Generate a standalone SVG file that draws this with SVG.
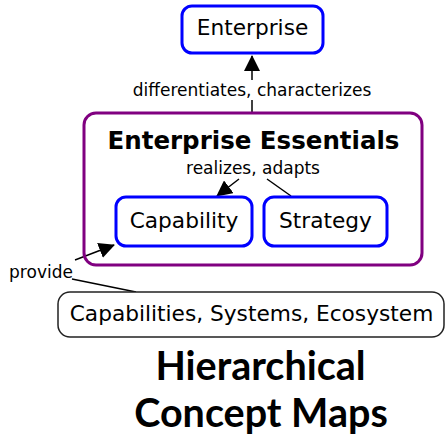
<svg xmlns="http://www.w3.org/2000/svg" width="446" height="436" viewBox="0 0 446 436">
<defs>
<marker id="ah" markerWidth="16" markerHeight="16" refX="15" refY="8" orient="auto" markerUnits="userSpaceOnUse">
<path d="M0,0 L16,8 L0,16 Z" fill="#000"/>
</marker>
<style>
.con{fill:#fff;stroke:#0000ff;stroke-width:3}
.lbl{font-family:"DejaVu Sans",sans-serif;font-size:17px;fill:#000;text-anchor:middle}
.nt{font-family:"DejaVu Sans",sans-serif;font-size:21.7px;fill:#000;text-anchor:middle}
.ln{stroke:#000;stroke-width:1.5;fill:none}
</style>
</defs>
<rect width="446" height="436" fill="#fff"/>
<g id="connectors">
<line class="ln" x1="252" y1="112" x2="252" y2="100"/>
<line class="ln" x1="252" y1="80" x2="252" y2="56" marker-end="url(#ah)"/>
<line class="ln" x1="239" y1="179" x2="217" y2="196" marker-end="url(#ah)"/>
<line class="ln" x1="291" y1="196" x2="267" y2="179"/>
<line class="ln" x1="75" y1="260" x2="114" y2="245" marker-end="url(#ah)"/>
<line class="ln" x1="72" y1="279" x2="136" y2="292"/>
<text class="lbl" x="252" y="96">differentiates, characterizes</text>
<text class="lbl" x="41" y="278">provide</text>
</g>
<g id="essentials">
<rect x="84" y="113" width="338" height="152" rx="12" fill="none" stroke="#800080" stroke-width="3"/>
<text x="253.5" y="149" font-family="DejaVu Sans,sans-serif" font-weight="bold" font-size="24.5" text-anchor="middle">Enterprise Essentials</text>
<text class="lbl" x="253" y="174">realizes, adapts</text>
</g>
<g id="enterprise">
<rect class="con" x="182" y="6" width="141" height="47" rx="10"/>
<text class="nt" x="252.5" y="35">Enterprise</text>
</g>
<g id="capability">
<rect class="con" x="116" y="197" width="136" height="49" rx="10"/>
<text class="nt" x="184" y="228">Capability</text>
</g>
<g id="strategy">
<rect class="con" x="264" y="197" width="123" height="49" rx="10"/>
<text class="nt" x="325.5" y="228">Strategy</text>
</g>
<g id="capabilities">
<rect x="58" y="292" width="386" height="45" rx="12" fill="#fff" stroke="#222" stroke-width="1.5"/>
<text class="nt" x="251.5" y="321">Capabilities, Systems, Ecosystem</text>
</g>
<g id="title" font-family="Lato,'Open Sans',sans-serif" font-weight="bold" font-size="39.5" text-anchor="middle" fill="#000">
<text x="260.5" y="380">Hierarchical</text>
<text x="261" y="427">Concept Maps</text>
</g>
</svg>
